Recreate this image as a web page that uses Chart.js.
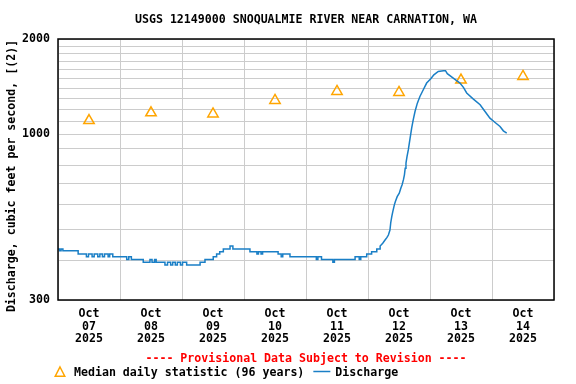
<!DOCTYPE html>
<html>
<head>
<meta charset="utf-8">
<script src="https://cdn.jsdelivr.net/npm/chart.js@4/dist/chart.umd.min.js"></script>
<style>
html,body{margin:0;padding:0;background:#ffffff;}
canvas{display:block;}
</style>
</head>
<body>
<canvas id="c" width="576" height="384"></canvas>
<script>
// ---- texts ----
const chartTitle = 'USGS 12149000 SNOQUALMIE RIVER NEAR CARNATION, WA';
const yAxisTitle = 'Discharge, cubic feet per second, [(2)]';
const provisionalNote = '---- Provisional Data Subject to Revision ----';
const medianLabel = 'Median daily statistic (96 years)';
const dischargeLabel = 'Discharge';

// ---- x axis: hours since Oct 07 2025 00:00 ----
const xGridHours = [0, 24, 48, 72, 96, 120, 144, 168, 192];
const xLabelHours = [12, 36, 60, 84, 108, 132, 156, 180];
const labelMonth = 'Oct';
const labelDays = ['07', '08', '09', '10', '11', '12', '13', '14'];
const labelYear = '2025';

// ---- y axis (log) ----
const yGridValues = [300, 400, 500, 600, 700, 800, 900, 1000, 1100, 1200, 1300, 1400, 1500, 1600, 1700, 1800, 1900, 2000];
const yLabelValues = [300, 1000, 2000];

// ---- median daily statistic (at noon of each day) ----
const medianHours = [12, 36, 60, 84, 108, 132, 156, 180];
const medianCfs = [1106, 1170, 1160, 1280, 1366, 1356, 1484, 1523];

// ---- discharge (hours, cfs) ----
const dischargeHours = [
  0, 0.6, 0.6, 1.2, 1.2, 1.9, 1.9, 7.8, 7.8, 11.0,
  11.0, 11.8, 11.8, 13.2, 13.2, 14.0, 14.0, 15.4, 15.4, 16.2,
  16.2, 17.2, 17.2, 18.0, 18.0, 19.4, 19.4, 20.0, 20.0, 21.2,
  21.2, 26.6, 26.6, 27.4, 27.4, 28.4, 28.4, 33.0, 33.0, 35.6,
  35.6, 36.4, 36.4, 37.4, 37.4, 38.0, 38.0, 41.4, 41.4, 42.4,
  42.4, 43.6, 43.6, 44.4, 44.4, 45.4, 45.4, 46.2, 46.2, 47.4,
  47.4, 48.2, 48.2, 49.8, 49.8, 55.0, 55.0, 56.9, 56.9, 60.1,
  60.1, 61.4, 61.4, 62.6, 62.6, 64.0, 64.0, 66.6, 66.6, 67.7,
  67.7, 74.3, 74.3, 77.0, 77.0, 77.6, 77.6, 78.6, 78.6, 79.2,
  79.2, 85.2, 85.2, 86.4, 86.4, 87.0, 87.0, 89.8, 89.8, 100.0,
  100.0, 100.6, 100.6, 102.0, 102.0, 106.4, 106.4, 107.0, 107.0, 115.0,
  115.0, 116.6, 116.6, 117.2, 117.2, 119.5, 119.5, 121.4, 121.4, 123.4,
  123.4, 124.7, 124.7, 125.7, 126.6, 127.3, 127.9, 128.5, 128.8, 129.2,
  129.6, 130.2, 130.6, 131.3, 132.1, 132.7, 133.2, 133.7, 134.1, 134.4,
  134.7, 135.1, 135.6, 136.0, 136.3, 136.9, 137.5, 138.2, 139.1, 140.1,
  141.4, 142.7, 144.3, 145.5, 147.2, 149.2, 150.0, 150.7, 153.0, 155.6,
  157.0, 158.2, 160.8, 163.4, 165.3, 167.2, 169.2, 171.1, 172.4, 173.7
];
const dischargeCfs = [
  435, 435, 429, 429, 435, 435, 429, 429, 419, 419,
  411, 411, 419, 419, 411, 411, 419, 419, 411, 411,
  419, 419, 411, 411, 419, 419, 411, 411, 419, 419,
  411, 411, 403, 403, 411, 411, 403, 403, 395, 395,
  403, 403, 395, 395, 403, 403, 395, 395, 387, 387,
  395, 395, 387, 387, 395, 395, 387, 387, 395, 395,
  387, 387, 395, 395, 387, 387, 395, 395, 403, 403,
  411, 411, 419, 419, 426, 426, 435, 435, 444, 444,
  435, 435, 426, 426, 419, 419, 426, 426, 419, 419,
  426, 426, 419, 419, 411, 411, 419, 419, 411, 411,
  403, 403, 411, 411, 403, 403, 395, 395, 403, 403,
  411, 411, 403, 403, 411, 411, 419, 419, 426, 426,
  435, 435, 444, 453, 464, 472, 481, 499, 526, 550,
  570, 599, 614, 636, 652, 676, 693, 718, 745, 782,
  811, 851, 893, 938, 973, 1046, 1111, 1181, 1255, 1317,
  1383, 1452, 1498, 1542, 1580, 1588, 1588, 1554, 1506, 1452,
  1405, 1351, 1292, 1240, 1181, 1125, 1090, 1059, 1026, 1009
];

// ---- styling ----
const FONT_FAMILY = '"DejaVu Sans Mono", "Liberation Mono", monospace';
const FONT_SIZE = 11.6;
const FONT = 'bold ' + FONT_SIZE + 'px ' + FONT_FAMILY;
const BLUE = '#1a7fc6';
const ORANGE = '#ffa500';
const GRID = '#cccccc';

const decor = {
  id: 'decor',
  afterDraw(chart) {
    const ctx = chart.ctx;
    const a = chart.chartArea;
    ctx.save();
    ctx.strokeStyle = '#000';
    ctx.lineWidth = 1.5;
    ctx.strokeRect(a.left, a.top, a.right - a.left, a.bottom - a.top);

    ctx.font = FONT;
    ctx.fillStyle = '#000';
    ctx.textAlign = 'center';
    ctx.textBaseline = 'middle';
    const cx = (a.left + a.right) / 2;
    ctx.fillText(chartTitle, cx, 20);

    ctx.save();
    ctx.translate(12, 176);
    ctx.rotate(-Math.PI / 2);
    ctx.fillText(yAxisTitle, 0, 0);
    ctx.restore();

    ctx.fillStyle = '#ff0000';
    ctx.fillText(provisionalNote, cx, 358.5);

    // legend
    const ly = 372.5;
    const tx = 60, r = 5.5;
    ctx.strokeStyle = ORANGE;
    ctx.lineWidth = 1.5;
    ctx.beginPath();
    ctx.moveTo(tx, ly - r);
    ctx.lineTo(tx + r * 0.866, ly + r * 0.5 + 1);
    ctx.lineTo(tx - r * 0.866, ly + r * 0.5 + 1);
    ctx.closePath();
    ctx.stroke();
    ctx.fillStyle = '#000';
    ctx.textAlign = 'left';
    ctx.fillText(medianLabel, 74, ly);
    const w = ctx.measureText(medianLabel).width;
    const lx = 74 + w + 9;
    ctx.strokeStyle = BLUE;
    ctx.lineWidth = 1.5;
    ctx.beginPath();
    ctx.moveTo(lx, ly - 1);
    ctx.lineTo(lx + 17, ly - 1);
    ctx.stroke();
    ctx.fillText(dischargeLabel, lx + 22, ly);
    ctx.restore();
  }
};

new Chart(document.getElementById('c'), {
  type: 'line',
  data: {
    datasets: [
      {
        label: dischargeLabel,
        data: dischargeHours.map((h, i) => ({ x: h, y: dischargeCfs[i] })),
        borderColor: BLUE,
        borderWidth: 1.5,
        pointRadius: 0,
        tension: 0,
        fill: false
      },
      {
        label: medianLabel,
        data: medianHours.map((h, i) => ({ x: h, y: medianCfs[i] })),
        showLine: false,
        pointStyle: 'triangle',
        pointRadius: 6,
        pointBorderColor: ORANGE,
        pointBackgroundColor: 'rgba(0,0,0,0)',
        pointBorderWidth: 1.5,
        borderColor: ORANGE
      }
    ]
  },
  options: {
    responsive: false,
    animation: false,
    devicePixelRatio: 1,
    layout: { padding: { top: 39, right: 22, left: 0, bottom: 0 } },
    plugins: {
      legend: { display: false },
      title: { display: false },
      tooltip: { enabled: false }
    },
    scales: {
      x: {
        type: 'linear',
        min: 0,
        max: 192,
        afterBuildTicks: (s) => {
          s.ticks = xGridHours.concat(xLabelHours).sort((p, q) => p - q).map(v => ({ value: v }));
        },
        afterFit: (s) => { s.height = 84; },
        grid: {
          color: (c) => (c.tick && xGridHours.includes(c.tick.value)) ? GRID : 'rgba(0,0,0,0)',
          lineWidth: 1,
          drawTicks: false
        },
        border: { display: false },
        ticks: {
          autoSkip: false,
          maxRotation: 0,
          minRotation: 0,
          padding: 7,
          color: '#000',
          font: { family: FONT_FAMILY, size: FONT_SIZE, weight: 'bold', lineHeight: 1.12 },
          callback: (v) => {
            const i = xLabelHours.indexOf(v);
            return i >= 0 ? [labelMonth, labelDays[i], labelYear] : '';
          }
        }
      },
      y: {
        type: 'logarithmic',
        min: 300,
        max: 2000,
        afterBuildTicks: (s) => {
          s.ticks = yGridValues.map(v => ({ value: v }));
        },
        afterFit: (s) => { s.width = 58; },
        grid: { color: GRID, lineWidth: 1, drawTicks: false },
        border: { display: false },
        ticks: {
          autoSkip: false,
          padding: 8,
          color: '#000',
          font: { family: FONT_FAMILY, size: FONT_SIZE, weight: 'bold' },
          callback: (v) => yLabelValues.includes(v) ? String(v) : ''
        }
      }
    }
  },
  plugins: [decor]
});
</script>
</body>
</html>
